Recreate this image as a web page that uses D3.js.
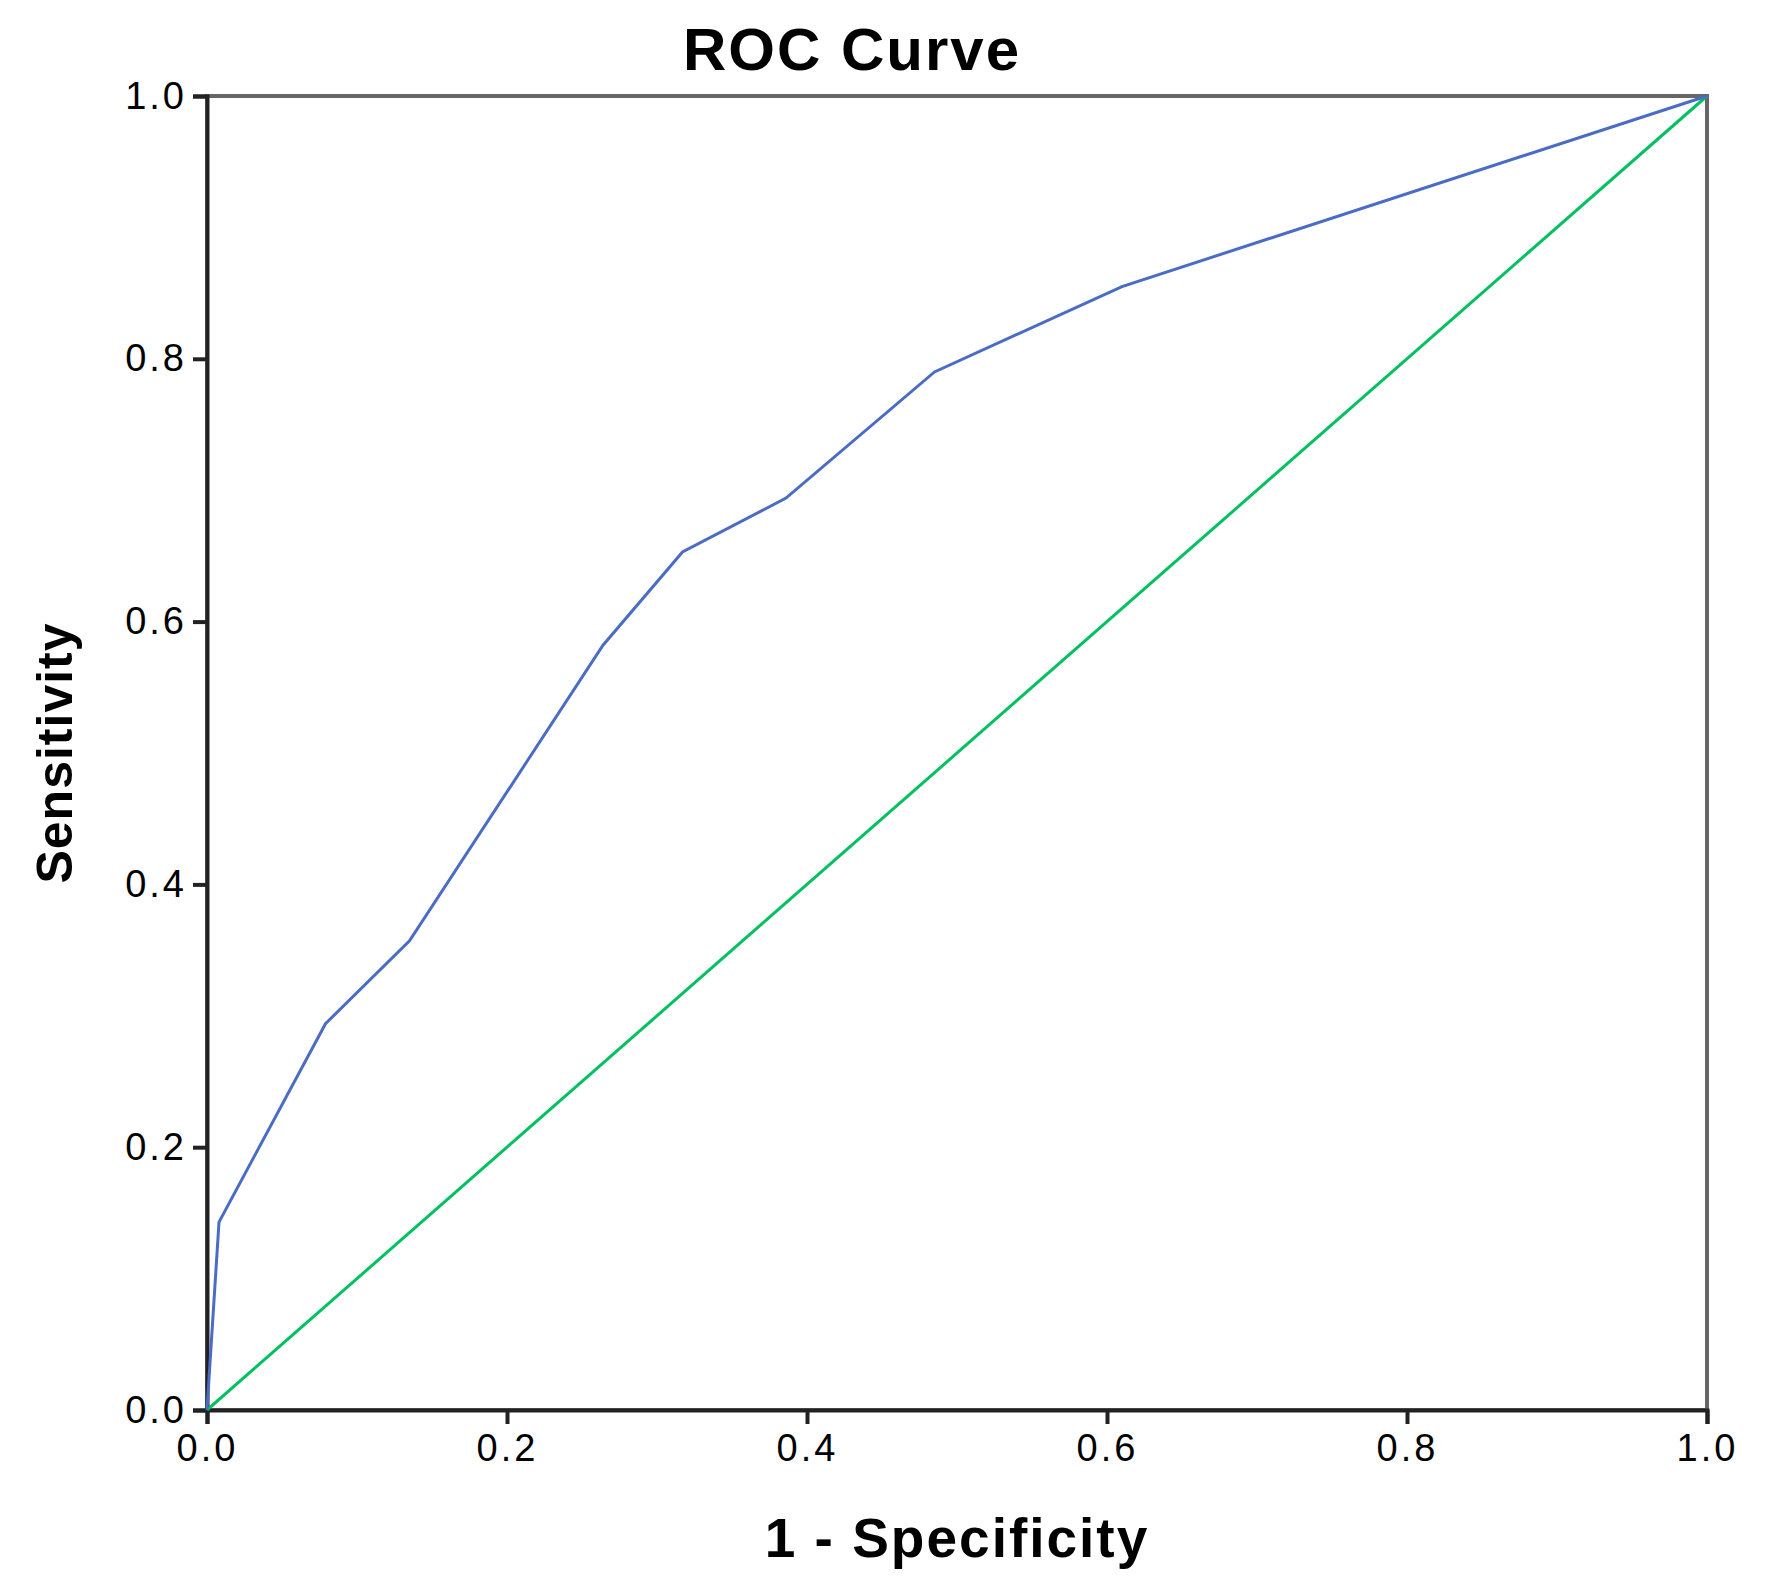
<!DOCTYPE html>
<html><head><meta charset="utf-8">
<script src="https://cdn.jsdelivr.net/npm/d3@7"></script>
<style>body{margin:0;background:#fff}</style></head>
<body><svg id="c" width="1785" height="1593"></svg>
<script>
const rocX = [0, 0.008, 0.079, 0.135, 0.264, 0.317, 0.386, 0.485, 0.61, 1];
const rocY = [0, 0.143, 0.294, 0.357, 0.582, 0.653, 0.694, 0.79, 0.855, 1];
const refX = [0, 1];
const refY = [0, 1];
const ticks = [0, 0.2, 0.4, 0.6, 0.8, 1.0];

const svg = d3.select("#c");
const L=207,R=1707,T=96,B=1410;
const x = d3.scaleLinear([0,1],[L,R]);
const y = d3.scaleLinear([0,1],[B,T]);
const font = "Liberation Sans, Arial, sans-serif";

svg.append("rect").attr("x",L).attr("y",T).attr("width",R-L).attr("height",B-T)
  .attr("fill","none").attr("stroke","#666").attr("stroke-width",4);

const xa = svg.append("g").attr("transform",`translate(0,${B})`)
  .call(d3.axisBottom(x).tickValues(ticks).tickFormat(d3.format(".1f")).tickSize(14).tickPadding(10));
const ya = svg.append("g").attr("transform",`translate(${L},0)`)
  .call(d3.axisLeft(y).tickValues(ticks).tickFormat(d3.format(".1f")).tickSize(14).tickPadding(6));
[xa,ya].forEach(a=>{
  a.select(".domain").attr("stroke","#222").attr("stroke-width",4);
  a.selectAll(".tick line").attr("stroke","#222").attr("stroke-width",4);
  a.selectAll("text").attr("font-family",font).attr("font-size",38).attr("letter-spacing",3).attr("fill","#000");
});

const line = d3.line().x(d=>x(d[0])).y(d=>y(d[1]));
svg.append("path").datum(refX.map((v,i)=>[v,refY[i]])).attr("d",line)
  .attr("fill","none").attr("stroke","#00c060").attr("stroke-width",3);
svg.append("path").datum(rocX.map((v,i)=>[v,rocY[i]])).attr("d",line)
  .attr("fill","none").attr("stroke","#4a6cc4").attr("stroke-width",3);

svg.append("text").attr("x",(L+R)/2-105).attr("y",70).attr("text-anchor","middle")
  .attr("font-family",font).attr("font-weight","bold").attr("font-size",60).attr("letter-spacing",2).text("ROC Curve");
svg.append("text").attr("x",(L+R)/2).attr("y",1557).attr("text-anchor","middle")
  .attr("font-family",font).attr("font-weight","bold").attr("font-size",55).attr("letter-spacing",2).text("1 - Specificity");
svg.append("text").attr("transform",`translate(72,${(T+B)/2}) rotate(-90)`).attr("text-anchor","middle")
  .attr("font-family",font).attr("font-weight","bold").attr("font-size",50).attr("letter-spacing",1).text("Sensitivity");
</script></body></html>
